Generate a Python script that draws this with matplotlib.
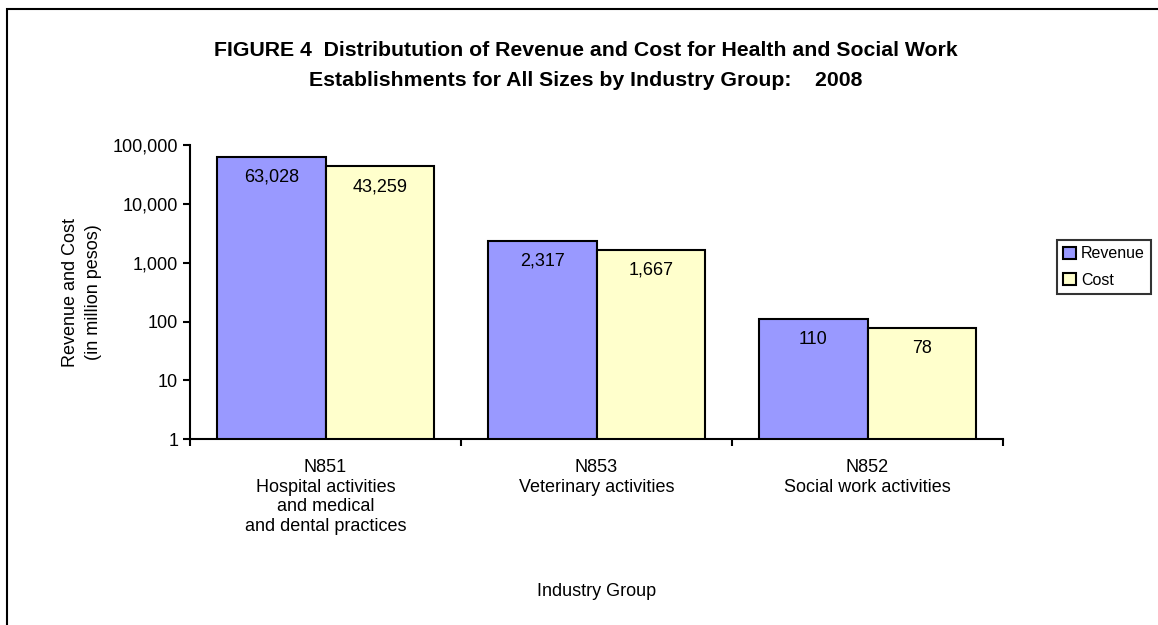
import numpy as np
import matplotlib
matplotlib.use("Agg")
import matplotlib.pyplot as plt
from matplotlib.patches import Rectangle
from matplotlib.ticker import FuncFormatter, FixedLocator, NullLocator

# values (million pesos)
groups = ["N851\nHospital activities\nand medical\nand dental practices",
          "N853\nVeterinary activities",
          "N852\nSocial work activities"]
revenue = [63028, 2317, 110]
cost = [43259, 1667, 78]
series_names = ["Revenue", "Cost"]

plt.rcParams['font.family'] = ['Liberation Sans', 'DejaVu Sans']

fig = plt.figure(figsize=(11.58, 6.25), dpi=100)
ax = fig.add_axes([190/1158, 1 - 439.3/625, (1003-190)/1158, (439.3-145)/625])

x = np.arange(len(groups))
w = 0.4
b1 = ax.bar(x - w/2, revenue, w, color="#9999FF", edgecolor="black", linewidth=1.5, label=series_names[0])
b2 = ax.bar(x + w/2, cost, w, color="#FFFFCC", edgecolor="black", linewidth=1.5, label=series_names[1])

for bars, vals in ((b1, revenue), (b2, cost)):
    for r, v in zip(bars, vals):
        ax.annotate(f"{v:,}", (r.get_x() + r.get_width()/2, v), xytext=(0, -14.5),
                    textcoords="offset points", ha="center", va="center", fontsize=13)

ax.set_yscale("log")
ax.set_ylim(1, 100000)
ax.yaxis.set_major_locator(FixedLocator([1, 10, 100, 1000, 10000, 100000]))
ax.yaxis.set_minor_locator(NullLocator())
ax.yaxis.set_major_formatter(FuncFormatter(lambda v, p: f"{int(v):,}"))

ax.set_xlim(-0.5, 2.5)
ax.set_xticks([-0.5, 0.5, 1.5, 2.5])
ax.set_xticklabels([])
ax.set_xticks(x, minor=True)
ax.set_xticklabels(groups, minor=True, fontsize=13, linespacing=1.22)
ax.tick_params(axis="x", which="minor", length=0, pad=14)
ax.tick_params(axis="both", which="major", length=5, width=1.5, direction="out", labelsize=13)

for s in ("top", "right"):
    ax.spines[s].set_visible(False)
for s in ("left", "bottom"):
    ax.spines[s].set_linewidth(1.5)

ax.set_ylabel("Revenue and Cost\n(in million pesos)", fontsize=13, linespacing=1.45, labelpad=8)

fig.text(0.506, 1 - 50/625, "FIGURE 4  Distributution of Revenue and Cost for Health and Social Work",
         ha="center", va="center", fontsize=15.3, fontweight="bold")
fig.text(0.506, 1 - 80/625, "Establishments for All Sizes by Industry Group:    2008",
         ha="center", va="center", fontsize=15.3, fontweight="bold")
fig.text(597/1158, 1 - 592/625, "Industry Group", ha="center", va="center", fontsize=13)

leg = fig.legend(loc="upper left", bbox_to_anchor=(1057/1158, 1 - 240/625), fontsize=11.5,
                 frameon=True, fancybox=False, edgecolor="black", handlelength=0.8, handleheight=0.8,
                 handletextpad=0.3, borderpad=0.4, labelspacing=0.72, borderaxespad=0)
leg.get_frame().set_linewidth(1.5)

# outer chart border (runs off the right and bottom edge)
fig.patches.append(Rectangle((7/1158, -0.1), 1.2, 1 - 9/625 + 0.1, transform=fig.transFigure,
                             fill=False, edgecolor="black", linewidth=1.5))

fig.savefig("out.png", dpi=100)
